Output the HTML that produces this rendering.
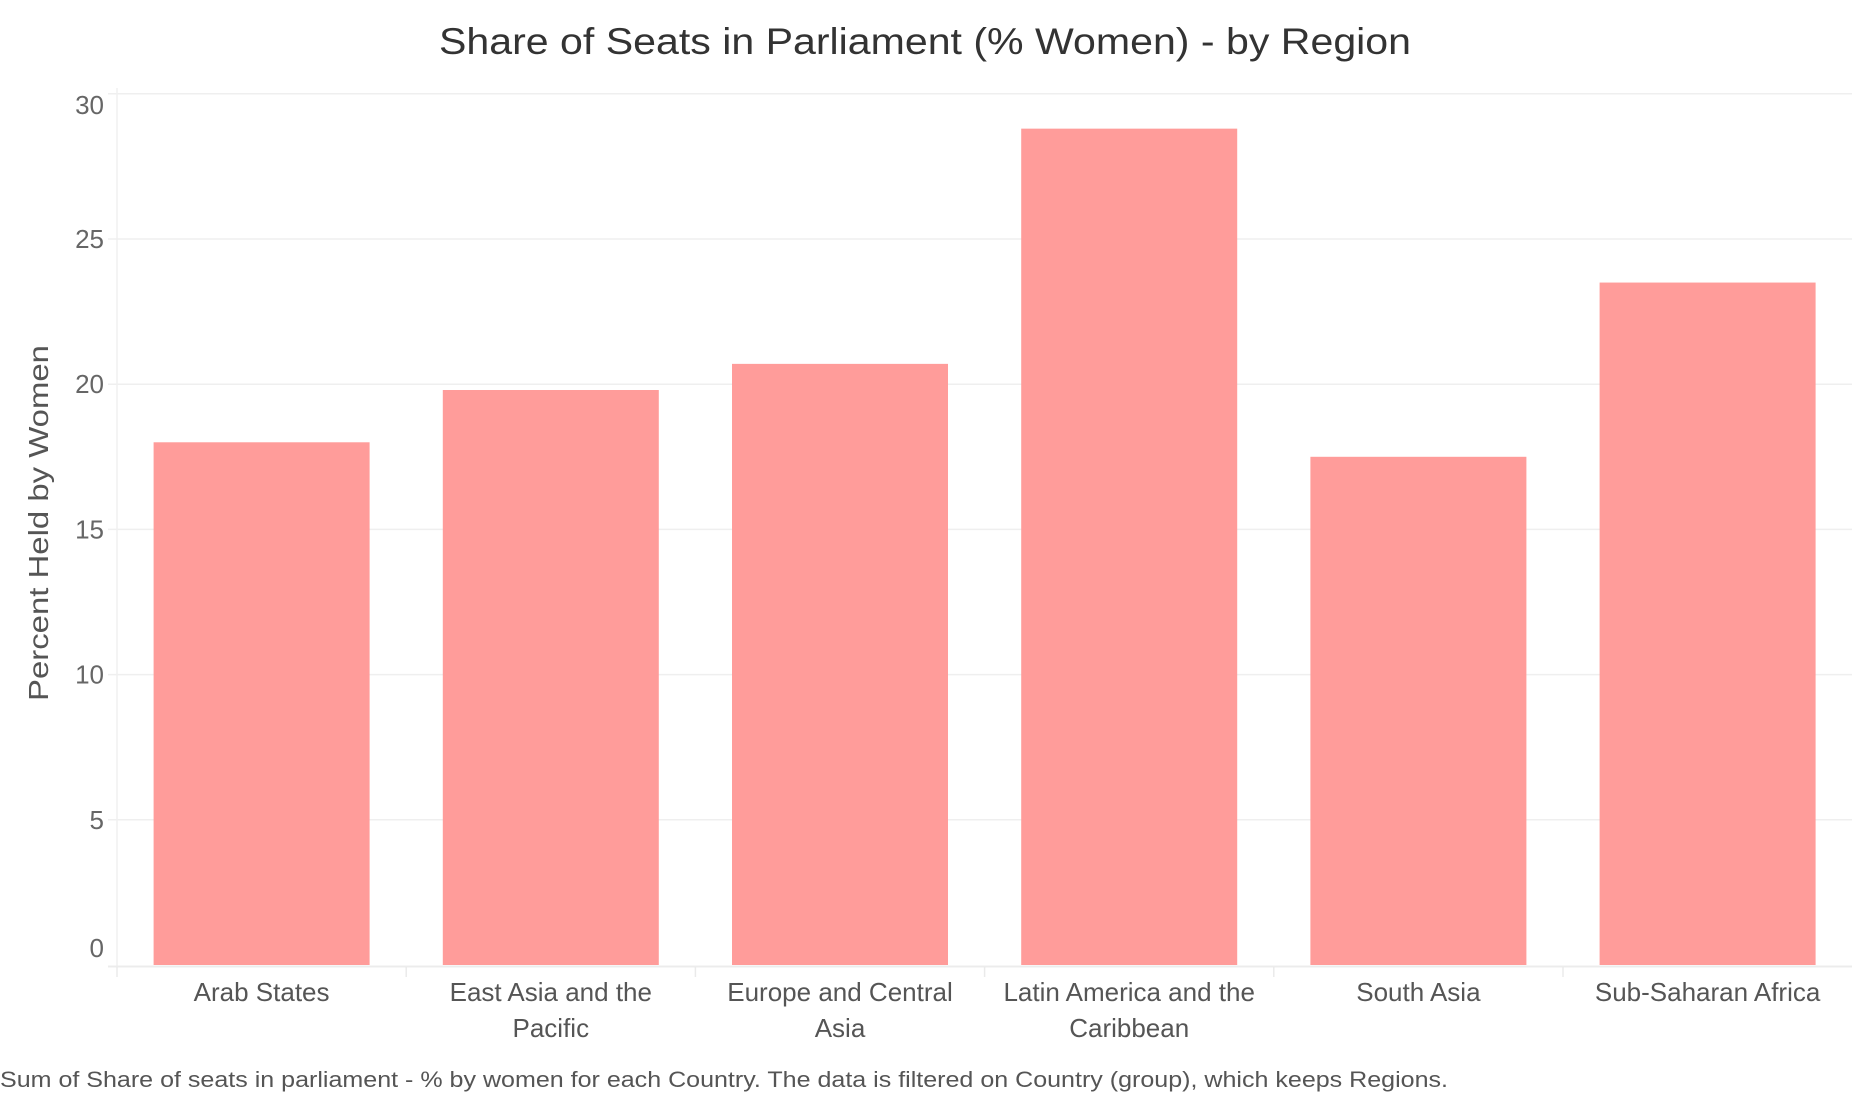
<!DOCTYPE html>
<html><head><meta charset="utf-8"><style>
html,body{margin:0;padding:0;background:#fff;}
svg{display:block;font-family:"Liberation Sans",sans-serif;}
</style></head><body>
<svg id="chart" width="1852" height="1096" viewBox="0 0 1852 1096">
<text x="925" y="54" text-anchor="middle" font-size="37" fill="#333" textLength="972" lengthAdjust="spacingAndGlyphs">Share of Seats in Parliament (% Women) - by Region</text>
<text transform="translate(48,523) rotate(-90)" text-anchor="middle" font-size="28" fill="#555" textLength="356" lengthAdjust="spacingAndGlyphs">Percent Held by Women</text>
<text x="0" y="1087" font-size="22" fill="#555" textLength="1448" lengthAdjust="spacingAndGlyphs">Sum of Share of seats in parliament - % by women for each Country. The data is filtered on Country (group), which keeps Regions.</text>
<g id="grid"></g><g id="bars"></g><g id="axes"></g>
</svg>
<script>
const categories = ["Arab States","East Asia and the Pacific","Europe and Central Asia","Latin America and the Caribbean","South Asia","Sub-Saharan Africa"];
const labelLines = [["Arab States"],["East Asia and the","Pacific"],["Europe and Central","Asia"],["Latin America and the","Caribbean"],["South Asia"],["Sub-Saharan Africa"]];
const values = [18.0, 19.8, 20.7, 28.8, 17.5, 23.5];
const yTicks = [0,5,10,15,20,25,30];

const NS="http://www.w3.org/2000/svg";
const plotL=117, bandW=289.2, y0=965, pxPerUnit=29.04, barW=216;
function yScale(v){return y0 - v*pxPerUnit;}
function xBand(i){return plotL + i*bandW;}
function mk(tag,attrs,parent){const e=document.createElementNS(NS,tag);for(const k in attrs)e.setAttribute(k,attrs[k]);parent.appendChild(e);return e;}
const grid=document.getElementById('grid'),bars=document.getElementById('bars'),axes=document.getElementById('axes');

yTicks.forEach((t,k)=>{
  const y=yScale(t);
  if(t>0){const l=mk('line',{x1:108,x2:1852,y1:y,y2:y,stroke:'#efefef','stroke-width':1.5},grid);
  
  }
  let off=9;
  if(k===0) off=-8;
  if(k===yTicks.length-1) off=20;
  const tx=mk('text',{x:104,y:y+off,'text-anchor':'end','font-size':26,fill:'#666'},axes);
  tx.textContent=t;
  
  
});
const ax=mk('line',{x1:plotL,x2:plotL,y1:88,y2:966,stroke:'#f0f0f0','stroke-width':1.5},axes);


const bx=mk('line',{x1:108,x2:1852,y1:966.5,y2:966.5,stroke:'#ececec','stroke-width':2},axes);



categories.forEach((c,i)=>{
  const x=xBand(i)+(bandW-barW)/2, y=yScale(values[i]);
  const r=mk('rect',{x:x,y:y,width:barW,height:y0-y,fill:'#ff9c9a'},bars);
  
  
  const tk=mk('line',{x1:xBand(i),x2:xBand(i),y1:967,y2:977,stroke:'#eaeaea','stroke-width':1.5},axes);
  
  
  labelLines[i].forEach((ln,j)=>{
    const t=mk('text',{x:xBand(i)+bandW/2,y:1001+j*36,'text-anchor':'middle','font-size':26,fill:'#555'},axes);
    t.textContent=ln;
    
    
  });
});
</script>
</body></html>
